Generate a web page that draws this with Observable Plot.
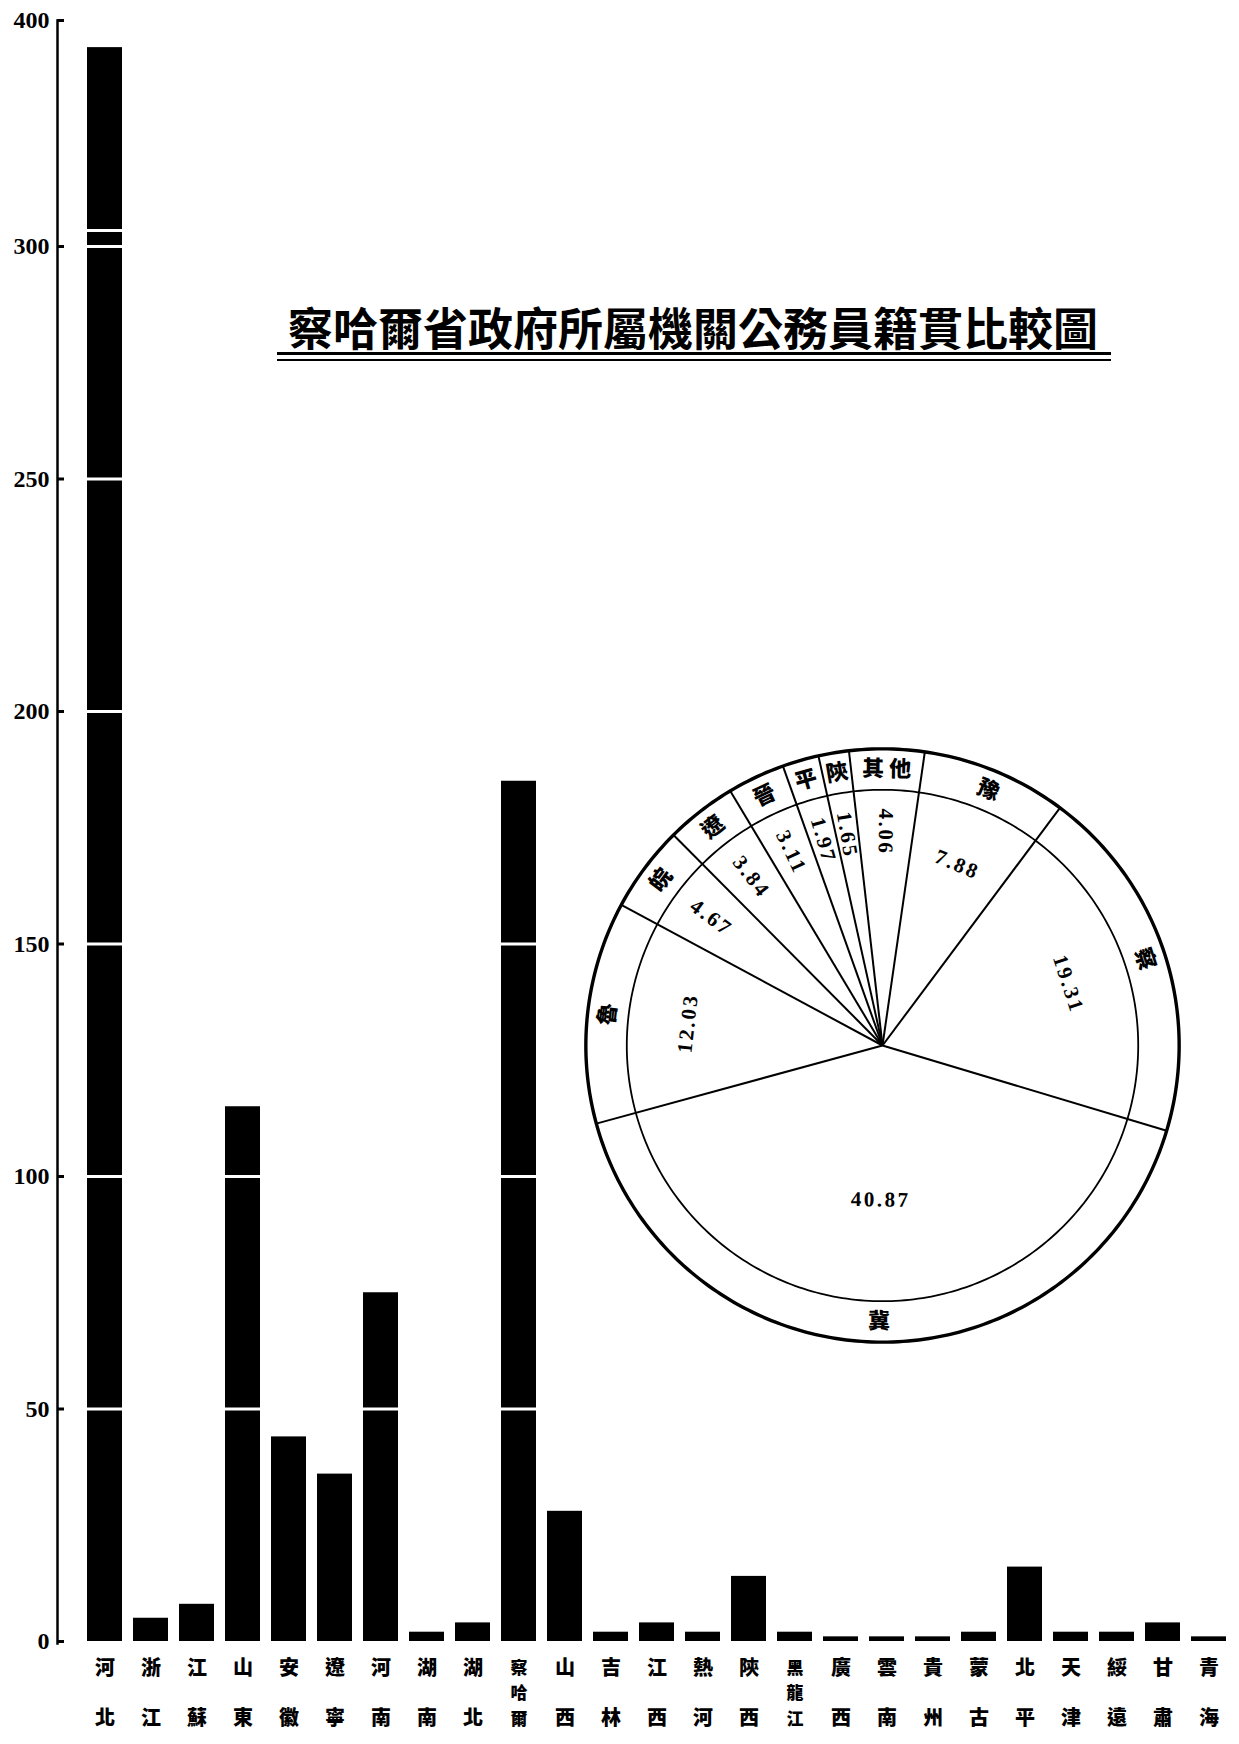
<!DOCTYPE html>
<html>
<head>
<meta charset="utf-8">
<script src="https://cdn.jsdelivr.net/npm/d3@7"></script>
<script src="https://cdn.jsdelivr.net/npm/@observablehq/plot@0.6"></script>
<style>
  body { margin: 0; background: #fff; }
  #wrap { position: relative; width: 1239px; height: 1744px; overflow: hidden; background: #fff; }
  #title { position: absolute; left: 240px; top: 301px; width: 906px; text-align: center;
           font-family: "Noto Sans CJK TC", "Noto Sans CJK SC", sans-serif; font-weight: 700;
           font-size: 45px; line-height: 52px; color: #000; white-space: nowrap; }
  .ul { position: absolute; left: 277px; width: 834px; background: #000; }
  #pie { position: absolute; left: 572px; top: 735px; }
  #pie svg { background: transparent !important; }
  .num text { letter-spacing: 2.5px; }
</style>
</head>
<body>
<div id="wrap">
  <div id="bars"></div>
  <div id="title">察哈爾省政府所屬機關公務員籍貫比較圖</div>
  <div class="ul" style="top:352px;height:3px"></div>
  <div class="ul" style="top:359px;height:2px"></div>
  <div id="pie"></div>
</div>
<script>
// ---- bar chart data ----
const provinces = ["河北","浙江","江蘇","山東","安徽","遼寧","河南","湖南","湖北","察哈爾","山西","吉林","江西","熱河","陝西","黑龍江","廣西","雲南","貴州","蒙古","北平","天津","綏遠","甘肅","青海"];
const counts    = [388, 5, 8, 115, 44, 36, 75, 2, 4, 185, 28, 2, 4, 2, 14, 2, 1, 1, 1, 2, 16, 2, 2, 4, 1];
const yTicks    = [0, 50, 100, 150, 200, 250, 300, 400];

// ---- pie chart data (percent) ----
const pieLabels = ["其他","豫","察","冀","魯","皖","遼","晉","平","陝"];
const pieValues = [4.06, 7.88, 19.31, 40.87, 12.03, 4.67, 3.84, 3.11, 1.97, 1.65];

const rows = provinces.map((p, i) => ({name: p, count: counts[i]}));
const twoChar = rows.filter(d => Array.from(d.name).length === 2);
const threeChar = rows.filter(d => Array.from(d.name).length > 2);
const cjk = '"Noto Sans CJK TC", "Noto Sans CJK SC", sans-serif';
const serif = '"Liberation Serif", "DejaVu Serif", serif';

function stackLabel(name) {
  const ch = Array.from(name);
  if (ch.length === 2) return ch[0] + "\n\u3000\n" + ch[1];
  return ch.join("\n");
}

const barChart = Plot.plot({
  width: 1239,
  height: 1744,
  marginLeft: 57,
  marginRight: 3,
  marginTop: 20,
  marginBottom: 101,
  style: {background: "white", fontFamily: serif, color: "black"},
  x: {domain: provinces, range: [77, 1236], paddingInner: 0.23, paddingOuter: 0, axis: null},
  y: {type: "linear", domain: [0, 300, 400], range: [1641, 246, 20], axis: null, label: null},
  marks: [
    Plot.barY(rows, {x: "name", y: "count", fill: "black"}),
    Plot.ruleY(yTicks.filter(d => d > 0 && d <= 300), {stroke: "white", strokeWidth: 3, insetLeft: 4}),
    Plot.ruleY([300], {stroke: "white", strokeWidth: 3, insetLeft: 4, dy: -16}),
    Plot.frame({anchor: "left", strokeWidth: 2.5}),
    Plot.axisY(yTicks, {label: null, tickSize: -7, tickPadding: 15, strokeWidth: 3, fontSize: 24, fontWeight: "bold", fontFamily: serif, tickFormat: d => String(d)}),
    Plot.text(twoChar, {x: "name", frameAnchor: "bottom", text: d => stackLabel(d.name), lineAnchor: "top", dy: 14, lineHeight: 1.25, fontSize: 20, fontWeight: 900, fontFamily: cjk, fill: "black"}),
    Plot.text(threeChar, {x: "name", frameAnchor: "bottom", text: d => stackLabel(d.name), lineAnchor: "top", dy: 12, lineHeight: 1.5, fontSize: 17, fontWeight: 900, fontFamily: cjk, fill: "black"})
  ]
});
document.getElementById("bars").appendChild(barChart);

// ---- pie chart ----
const pieStart = -6.5; // degrees, clockwise from top
const total = d3.sum(pieValues);
let acc = 0;
const slices = pieLabels.map((label, i) => {
  const a0 = pieStart + acc / total * 360;
  acc += pieValues[i];
  const a1 = pieStart + acc / total * 360;
  return {label, value: pieValues[i], a0, a1, mid: (a0 + a1) / 2};
});
const rad = d => d * Math.PI / 180;
const innerR = 0.862;
const ringMid = (1 + innerR) / 2;
const norm = a => ((a % 360) + 360) % 360;
const tangential = a => { const n = norm(a); return (n > 90 && n < 270) ? n - 180 : n; };
const circle = r => d3.range(0, 360, 1).map(a => ({x: r * Math.sin(rad(a)), y: r * Math.cos(rad(a))}));

const innerLabels = slices.map(s => {
  const small = s.value < 6;
  const r = s.value > 30 ? 0.52 : (small ? 0.72 : 0.66);
  return {
    text: s.value.toFixed(2),
    x: r * Math.sin(rad(s.mid)), y: r * Math.cos(rad(s.mid)),
    rotate: small ? norm(s.mid + 90) : tangential(s.mid)
  };
});
const outerLabels = slices.map(s => ({
  text: s.label === "其他" ? "其 他" : s.label,
  x: ringMid * Math.sin(rad(s.mid)), y: ringMid * Math.cos(rad(s.mid)),
  rotate: tangential(s.mid)
}));
const spokes = slices.map(s => ({x2: Math.sin(rad(s.a0)), y2: Math.cos(rad(s.a0))}));

const L = 1.045;
const pieChart = Plot.plot({
  width: 620, height: 620, margin: 0,
  style: {background: "transparent", fontFamily: serif},
  x: {domain: [-L, L], axis: null},
  y: {domain: [-L, L], axis: null},
  marks: [
    Plot.line(circle(1), {x: "x", y: "y", curve: "linear-closed", stroke: "black", strokeWidth: 3.4}),
    Plot.line(circle(innerR), {x: "x", y: "y", curve: "linear-closed", stroke: "black", strokeWidth: 1.8}),
    Plot.link(spokes, {x1: () => 0, y1: () => 0, x2: "x2", y2: "y2", stroke: "black", strokeWidth: 2}),
    Plot.text(innerLabels, {x: "x", y: "y", text: "text", rotate: "rotate", fontSize: 21, fontWeight: "bold", fontFamily: serif, fill: "black", className: "num"}),
    Plot.text(outerLabels, {x: "x", y: "y", text: "text", rotate: "rotate", fontSize: 22, fontWeight: 900, fontFamily: cjk, fill: "black"})
  ]
});
document.getElementById("pie").appendChild(pieChart);
</script>
</body>
</html>
